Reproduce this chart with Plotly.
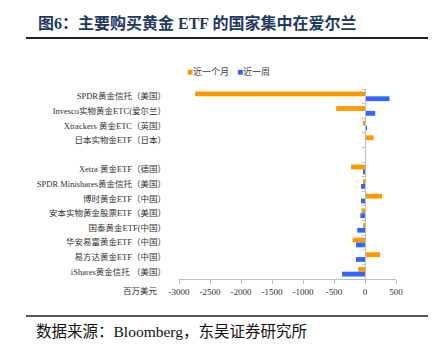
import plotly.graph_objects as go

categories = [
    "SPDR黄金信托（美国）",
    "Invesco实物黄金ETC(爱尔兰）",
    "Xtrackers 黄金ETC（英国）",
    "日本实物金ETF（日本）",
    " ",
    "Xetra 黄金ETF（德国）",
    "SPDR Minishares黄金信托（美国）",
    "博时黄金ETF（中国）",
    "安本实物黄金股票ETF（美国）",
    "国泰黄金ETF(中国）",
    "华安易富黄金ETF（中国）",
    "易方达黄金ETF（中国）",
    "iShares黄金信托 （美国）",
]
month_vals = [-2740, -465, -35, 140, 0, -225, -30, 275, -55, -20, -200, 245, -110]
week_vals = [395, 165, 20, 0, 0, -25, -65, -65, -75, -125, -145, -145, -370]
series_names = ["近一个月", "近一周"]
x_ticks = [-3000, -2500, -2000, -1500, -1000, -500, 0, 500]
unit_label = "百万美元"
title_text = "图6：主要购买黄金 ETF 的国家集中在爱尔兰"
source_text = "数据来源：Bloomberg，东吴证券研究所"

ORANGE = "#FF9900"
BLUE = "#3366FF"
AX = "#BFBFBF"
FONT = "Liberation Serif, Noto Sans CJK SC, serif"

L, R, T, B = 179, 38, 89, 71
W, H = 434, 350
pw, ph = W - L - R, H - T - B

def px(x):
    return (x - L) / pw

def py(y):
    return (H - B - y) / ph

fig = go.Figure()
fig.add_trace(go.Bar(y=categories, x=month_vals, orientation="h", name=series_names[0],
                     marker=dict(color=ORANGE, line=dict(width=0))))
fig.add_trace(go.Bar(y=categories, x=week_vals, orientation="h", name=series_names[1],
                     marker=dict(color=BLUE, line=dict(width=0))))
# invisible trace to carry the zero-line axis with boundary ticks
fig.add_trace(go.Scatter(x=[None], y=[None], yaxis="y2", showlegend=False, hoverinfo="skip"))

n = len(categories)
fig.update_layout(
    width=W, height=H,
    margin=dict(l=L, r=R, t=T, b=B, pad=0),
    paper_bgcolor="white", plot_bgcolor="white",
    barmode="group", bargap=0.34, bargroupgap=0,
    font=dict(family=FONT, size=9, color="#333333"),
    showlegend=False,
    xaxis=dict(range=[-3000, 500], tickvals=x_ticks, ticktext=[str(v) for v in x_ticks],
               showgrid=False, zeroline=False, showline=True, linecolor=AX, linewidth=1,
               ticks="outside", ticklen=4, tickcolor=AX, tickfont=dict(size=9, color="#333333"),
               fixedrange=True),
    yaxis=dict(categoryorder="array", categoryarray=categories, autorange="reversed",
               showgrid=False, zeroline=False, showline=False, ticks="",
               ticklabelstandoff=12, tickfont=dict(size=8.5, color="#333333")),
    yaxis2=dict(overlaying="y", anchor="free", position=3000 / 3500, side="left",
                range=[n - 0.5, -0.5], tickvals=[i - 0.5 for i in range(n + 1)],
                showticklabels=False, ticks="outside", ticklen=3, tickcolor=AX,
                showline=True, linecolor=AX, linewidth=1, showgrid=False, zeroline=False),
)

# legend entries
for name, color, xpos in [(series_names[0], ORANGE, 185), (series_names[1], BLUE, 235)]:
    fig.add_annotation(text=f"<span style='color:{color};font-size:10px'>■</span>{name}",
                       xref="paper", yref="paper", x=px(xpos), y=py(72),
                       xanchor="left", yanchor="middle", showarrow=False,
                       font=dict(size=9, color="#404040", family=FONT))

fig.add_annotation(text=f"<b>{title_text}</b>", xref="paper", yref="paper",
                   x=px(36), y=py(23), xanchor="left", yanchor="middle", showarrow=False,
                   font=dict(size=16, color="#1F3A60", family=FONT))
fig.add_annotation(text=source_text, xref="paper", yref="paper",
                   x=px(34), y=py(331), xanchor="left", yanchor="middle", showarrow=False,
                   font=dict(size=15.5, color="#111111", family=FONT))
fig.add_annotation(text=unit_label, xref="paper", yref="paper",
                   x=px(160), y=py(291), xanchor="right", yanchor="middle", showarrow=False,
                   font=dict(size=8.5, color="#333333", family=FONT))
fig.add_shape(type="line", xref="paper", yref="paper", x0=px(26), x1=px(428),
              y0=py(38), y1=py(38), line=dict(color="#222222", width=2))
fig.add_shape(type="line", xref="paper", yref="paper", x0=px(26), x1=px(428),
              y0=py(316), y1=py(316), line=dict(color="#222222", width=1.5))

fig.write_html("out.html")
